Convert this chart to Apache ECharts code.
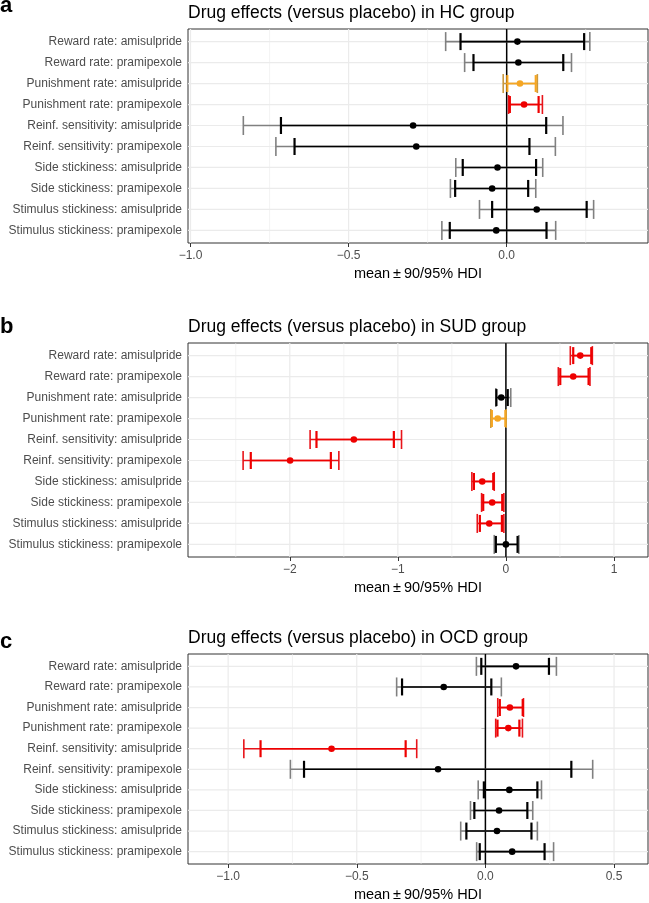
<!DOCTYPE html>
<html>
<head>
<meta charset="utf-8">
<script src="https://cdn.jsdelivr.net/npm/echarts@6/dist/echarts.min.js"></script>
<style>
html,body{margin:0;padding:0;background:#fff;}
#chart{width:649px;height:903px;}
</style>
</head>
<body>
<div id="chart"></div>
<script>
// ---------- data ----------
const categories = [
  'Reward rate: amisulpride', 'Reward rate: pramipexole',
  'Punishment rate: amisulpride', 'Punishment rate: pramipexole',
  'Reinf. sensitivity: amisulpride', 'Reinf. sensitivity: pramipexole',
  'Side stickiness: amisulpride', 'Side stickiness: pramipexole',
  'Stimulus stickiness: amisulpride', 'Stimulus stickiness: pramipexole'
];
const panelTitles = [
  'Drug effects (versus placebo) in HC group',
  'Drug effects (versus placebo) in SUD group',
  'Drug effects (versus placebo) in OCD group'
];
const panelLetters = ['a', 'b', 'c'];
const xAxisTitle = 'mean\u2009±\u200990/95% HDI';

// sig: 0 = not credible (black/grey), 1 = credible (red), 2 = 90% only (orange)
// HC group
const hcMean = [0.034, 0.037, 0.042, 0.055, -0.296, -0.286, -0.029, -0.046, 0.095, -0.033];
const hcLo90 = [-0.146, -0.105, 0.002, 0.010, -0.714, -0.671, -0.139, -0.163, -0.046, -0.180];
const hcHi90 = [0.245, 0.179, 0.092, 0.101, 0.125, 0.072, 0.093, 0.068, 0.253, 0.126];
const hcLo95 = [-0.193, -0.133, -0.011, 0.006, -0.833, -0.730, -0.161, -0.178, -0.086, -0.205];
const hcHi95 = [0.263, 0.205, 0.097, 0.113, 0.178, 0.154, 0.114, 0.092, 0.275, 0.155];
const hcSig  = [0, 0, 2, 1, 0, 0, 0, 0, 0, 0];
// SUD group
const sudMean = [0.688, 0.623, -0.043, -0.076, -1.407, -1.997, -0.219, -0.127, -0.154, 0.000];
const sudLo90 = [0.623, 0.503, -0.088, -0.130, -1.753, -2.361, -0.296, -0.210, -0.241, -0.093];
const sudHi90 = [0.790, 0.765, 0.017, -0.005, -1.037, -1.620, -0.117, -0.034, -0.037, 0.108];
const sudLo95 = [0.596, 0.485, -0.093, -0.140, -1.812, -2.432, -0.315, -0.225, -0.265, -0.108];
const sudHi95 = [0.800, 0.778, 0.045, 0.003, -0.966, -1.546, -0.108, -0.019, -0.019, 0.120];
const sudSig  = [1, 1, 0, 2, 1, 1, 1, 1, 1, 0];
// OCD group
const ocdMean = [0.119, -0.162, 0.095, 0.089, -0.598, -0.184, 0.093, 0.053, 0.045, 0.104];
const ocdLo90 = [-0.016, -0.324, 0.056, 0.047, -0.874, -0.705, -0.006, -0.043, -0.074, -0.022];
const ocdHi90 = [0.247, 0.023, 0.145, 0.132, -0.310, 0.334, 0.202, 0.163, 0.179, 0.230];
const ocdLo95 = [-0.035, -0.345, 0.048, 0.040, -0.939, -0.758, -0.028, -0.058, -0.096, -0.034];
const ocdHi95 = [0.276, 0.062, 0.148, 0.144, -0.267, 0.417, 0.218, 0.184, 0.202, 0.265];
const ocdSig  = [0, 0, 1, 1, 1, 0, 0, 0, 0, 0];

// axis ranges & ticks
const xMins = [-1.008, -2.942, -1.156];
const xMaxs = [0.447, 1.315, 0.632];
const xTicks = [[-1, -0.5, 0], [-2, -1, 0, 1], [-1, -0.5, 0, 0.5]];
const xTickDecimals = [1, 0, 1];
const xMinorGrid = [[-0.75, -0.25, 0.25], [-2.5, -1.5, -0.5, 0.5], [-0.75, -0.25, 0.25]];

// ---------- layout / style ----------
const FONT = '"Liberation Sans", Arial, Helvetica, sans-serif';
const gridTops = [29, 343, 654];
const gridHeight = 214;
const gridLeft = 188;
const gridWidth = 460;
const palette = {
  0: { inner: '#000000', outer: '#808080' },
  1: { inner: '#ee0000', outer: '#e8141a' },
  2: { inner: '#f5a623', outer: '#c8983f' }
};

const panels = [
  { mean: hcMean, lo90: hcLo90, hi90: hcHi90, lo95: hcLo95, hi95: hcHi95, sig: hcSig },
  { mean: sudMean, lo90: sudLo90, hi90: sudHi90, lo95: sudLo95, hi95: sudHi95, sig: sudSig },
  { mean: ocdMean, lo90: ocdLo90, hi90: ocdHi90, lo95: ocdLo95, hi95: ocdHi95, sig: ocdSig }
];
const rowIdx = categories.map((c, i) => i + 1);

function fmt(v, d) {
  const s = Math.abs(v).toFixed(d);
  return (v < -1e-9 ? '\u2212' : '') + s;
}

const grids = [], xAxes = [], yAxes = [], series = [], titles = [];

panels.forEach((p, k) => {
  grids.push({
    left: gridLeft, top: gridTops[k], width: gridWidth, height: gridHeight,
    show: true, borderColor: '#333333', borderWidth: 1, backgroundColor: 'transparent',
    containLabel: false
  });
  xAxes.push({
    type: 'value', gridIndex: k, min: xMins[k], max: xMaxs[k],
    axisLine: { show: false },
    axisTick: { show: true, length: 4, customValues: xTicks[k], lineStyle: { color: '#333333', width: 1 } },
    axisLabel: {
      show: true, customValues: xTicks[k], margin: 7, color: '#4d4d4d', fontSize: 12, fontFamily: FONT,
      formatter: (v) => fmt(v, xTickDecimals[k])
    },
    splitLine: { show: false },
    name: xAxisTitle, nameLocation: 'middle', nameGap: 23,
    nameTextStyle: { color: '#000', fontSize: 14.5, fontFamily: FONT }
  });
  yAxes.push({
    type: 'value', gridIndex: k, min: 0.4, max: 10.6, inverse: true,
    axisLine: { show: false },
    axisTick: { show: true, length: 4, customValues: rowIdx, lineStyle: { color: '#333333', width: 1 } },
    axisLabel: {
      show: true, customValues: rowIdx, margin: 6, color: '#4d4d4d', fontSize: 12, fontFamily: FONT,
      formatter: (v) => categories[Math.round(v) - 1]
    },
    splitLine: { show: false }
  });

  // vertical grid lines (major + minor)
  const vgrid = xTicks[k].map(v => [v, 1]).concat(xMinorGrid[k].map(v => [v, 0]));
  series.push({
    type: 'custom', xAxisIndex: k, yAxisIndex: k, silent: true, z: 1, clip: false,
    data: vgrid, encode: { x: 0 },
    renderItem: (params, api) => {
      const cs = params.coordSys;
      const x = api.coord([api.value(0), 1])[0];
      const major = api.value(1) === 1;
      return { type: 'line', shape: { x1: x, y1: cs.y, x2: x, y2: cs.y + cs.height },
        style: { stroke: '#ebebeb', lineWidth: major ? 1.2 : 0.6 } };
    }
  });
  // horizontal grid lines at categories
  series.push({
    type: 'custom', xAxisIndex: k, yAxisIndex: k, silent: true, z: 1, clip: false,
    data: rowIdx.map(r => [0, r]), encode: { x: 0, y: 1 },
    renderItem: (params, api) => {
      const cs = params.coordSys;
      const y = api.coord([0, api.value(1)])[1];
      return { type: 'line', shape: { x1: cs.x, y1: y, x2: cs.x + cs.width, y2: y },
        style: { stroke: '#ebebeb', lineWidth: 1.2 } };
    }
  });
  // zero reference line
  series.push({
    type: 'custom', xAxisIndex: k, yAxisIndex: k, silent: true, z: 2, clip: false,
    data: [[0]], encode: { x: 0 },
    renderItem: (params, api) => {
      const cs = params.coordSys;
      const x = api.coord([0, 1])[0];
      return { type: 'line', shape: { x1: x, y1: cs.y, x2: x, y2: cs.y + cs.height },
        style: { stroke: '#000000', lineWidth: 1.5 } };
    }
  });
  // error bars
  const data = rowIdx.map((r, i) => [r, p.lo95[i], p.lo90[i], p.mean[i], p.hi90[i], p.hi95[i], p.sig[i]]);
  series.push({
    type: 'custom', xAxisIndex: k, yAxisIndex: k, silent: true, z: 3, clip: false,
    data: data, encode: { y: 0, x: [1, 2, 3, 4, 5] },
    renderItem: (params, api) => {
      const r = api.value(0);
      const col = palette[api.value(6)];
      const pt = (v) => api.coord([v, r]);
      const o1 = pt(api.value(1)), i1 = pt(api.value(2)), m = pt(api.value(3)),
            i2 = pt(api.value(4)), o2 = pt(api.value(5));
      const y = m[1];
      const capO = 9.5, capI = 8.5;
      const ln = (x1, y1, x2, y2, c, w) => ({ type: 'line', shape: { x1, y1, x2, y2 }, style: { stroke: c, lineWidth: w } });
      return {
        type: 'group',
        children: [
          ln(o1[0], y, o2[0], y, col.outer, 1.6),
          ln(o1[0], y - capO, o1[0], y + capO, col.outer, 1.6),
          ln(o2[0], y - capO, o2[0], y + capO, col.outer, 1.6),
          ln(i1[0], y, i2[0], y, col.inner, 1.6),
          ln(i1[0], y - capI, i1[0], y + capI, col.inner, 2.2),
          ln(i2[0], y - capI, i2[0], y + capI, col.inner, 2.2),
          { type: 'circle', shape: { cx: m[0], cy: y, r: 3.3 }, style: { fill: col.inner } }
        ]
      };
    }
  });

  titles.push({
    text: panelTitles[k], left: gridLeft, top: [4, 318, 629][k], padding: 0,
    textStyle: { color: '#000', fontSize: 17.5, fontWeight: 'normal', fontFamily: FONT, lineHeight: 18 }
  });
  titles.push({
    text: panelLetters[k], left: 0, top: [-5, 316, 631][k], padding: 0,
    textStyle: { color: '#000', fontSize: 22, fontWeight: 'bold', fontFamily: FONT, lineHeight: 22 }
  });
});

const chart = echarts.init(document.getElementById('chart'), null, { renderer: 'canvas' });
chart.setOption({
  animation: false,
  backgroundColor: '#ffffff',
  title: titles,
  grid: grids,
  xAxis: xAxes,
  yAxis: yAxes,
  series: series
});
</script>
</body>
</html>
